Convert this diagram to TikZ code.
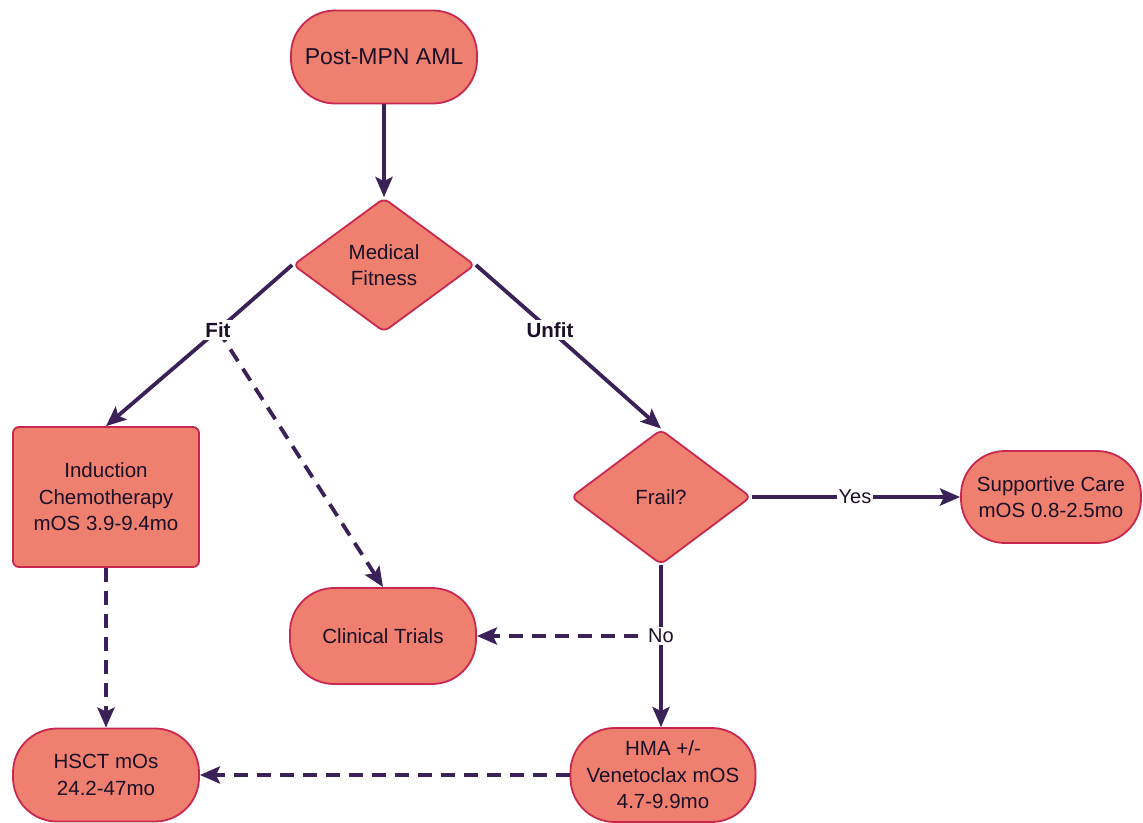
\documentclass[tikz,border=0pt]{standalone}
\usepackage{fontspec}
\setmainfont{Liberation Sans}
\usetikzlibrary{arrows.meta,shapes.geometric}
\definecolor{boxfill}{HTML}{EF7F6F}
\definecolor{boxline}{HTML}{C8284F}
\definecolor{conn}{HTML}{3A2258}
\definecolor{txt}{HTML}{1A1028}
\begin{document}
\begin{tikzpicture}[x=1pt,y=-1pt,
  base/.style={draw=boxline,fill=boxfill,line width=1.8pt,text=txt,align=center,
    font=\fontsize{20.5}{26.5}\selectfont,inner sep=0pt},
  stadium/.style={base,rectangle,rounded corners=44pt,minimum width=186pt,minimum height=93pt},
  boxnode/.style={base,rectangle,rounded corners=6pt,minimum width=186pt,minimum height=140pt},
  decision/.style={base,diamond,rounded corners=6pt,minimum width=182pt,minimum height=134pt,aspect=1.36},
  conline/.style={draw=conn,line width=3.8pt,-{Stealth[length=20pt,width=17pt,inset=4pt]}},
  plainline/.style={draw=conn,line width=3.8pt},
  dashline/.style={conline,dash pattern=on 14pt off 9pt},
  lab/.style={fill=white,text=txt,inner sep=2pt,font=\fontsize{20}{24}\selectfont},
  blab/.style={lab,font=\bfseries\fontsize{20.5}{24}\selectfont}
]
\useasboundingbox (0,0) rectangle (1143,822);
\fill[white] (0,0) rectangle (1143,822);

\node[stadium,font=\fontsize{23}{27}\selectfont] (start) at (384,57) {Post-MPN AML};
\node[decision] (fit) at (384,265) {Medical\\Fitness};
\node[boxnode] (ind) at (106,497) {Induction\\Chemotherapy\\mOS 3.9-9.4mo};
\node[decision,minimum width=180pt,minimum height=135pt] (frail) at (661,497) {Frail?};
\node[stadium,minimum width=180pt,minimum height=92pt] (supp) at (1051,497) {Supportive Care\\mOS 0.8-2.5mo};
\node[stadium,minimum height=96pt] (trials) at (383,636) {Clinical Trials};
\node[stadium] (hsct) at (106,775) {HSCT mOs\\24.2-47mo};
\node[stadium,minimum width=185pt,minimum height=94pt] (hma) at (663,775) {HMA +/-\\Venetoclax mOS\\4.7-9.9mo};

\coordinate (fitpt) at (218,330);
\coordinate (unfitpt) at (550,330);
\coordinate (nopt) at (661,636);
\coordinate (yespt) at (855,497);

% connectors
\draw[conline] (start) -- (fit);
\draw[plainline] (fit.west) -- (fitpt);
\draw[conline] (fitpt) -- (ind.north);
\draw[dashline] (fitpt) -- (trials.north);
\draw[plainline] (fit.east) -- (unfitpt);
\draw[conline] (unfitpt) -- (frail.north);
\draw[conline] (frail.east) -- (supp.west);
\draw[plainline] (frail.south) -- (nopt);
\draw[conline] (nopt) -- (hma.north -| nopt);
\draw[dashline] (nopt) -- (trials.east);
\draw[dashline] (ind.south) -- (hsct.north);
\draw[dashline] (hma.west) -- (hsct.east);

% labels
\node[blab] (fitlab) at (fitpt) {Fit};
\node[blab] (unfitlab) at (unfitpt) {Unfit};
\node[lab] (nolab) at (nopt) {No};
\node[lab] (yeslab) at (yespt) {Yes};
\end{tikzpicture}
\end{document}
